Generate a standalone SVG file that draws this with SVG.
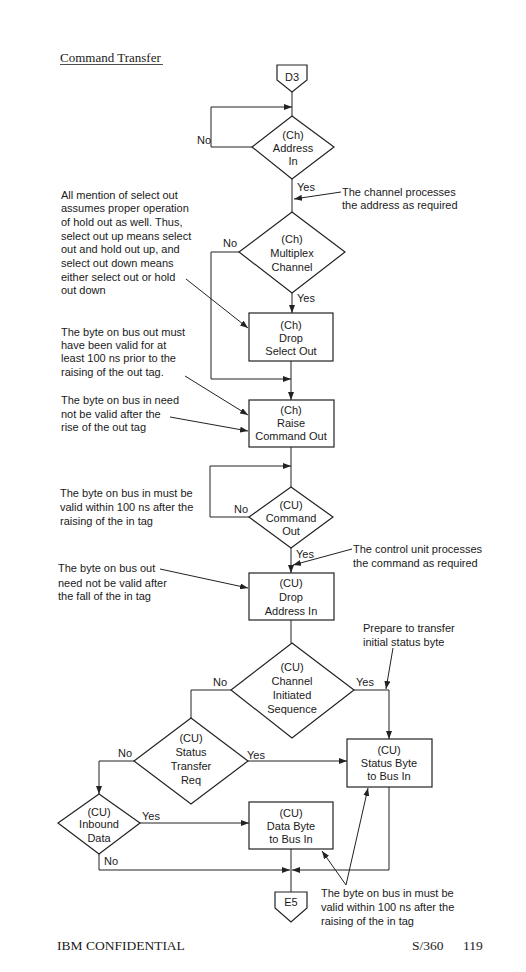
<svg xmlns="http://www.w3.org/2000/svg" width="526" height="972" viewBox="0 0 526 972">
<style>
  .bg{fill:#fff}
  .shape{fill:none;stroke:#222;stroke-width:1.2}
  .line{fill:none;stroke:#222;stroke-width:1}
  text{font-family:"Liberation Sans",Arial,sans-serif;font-size:11px;fill:#1a1a1a}
  .c{text-anchor:middle}
  .serif{font-family:"Liberation Serif","Times New Roman",serif;font-size:13.5px}
</style>
<defs>
  <marker id="ah" markerWidth="8" markerHeight="6" refX="8" refY="3" orient="auto" markerUnits="userSpaceOnUse">
    <path d="M0,0 L8,3 L0,6 z" fill="#222"/>
  </marker>
</defs>
<rect class="bg" x="0" y="0" width="526" height="972"/>

<g id="title">
  <text class="serif" x="60" y="62" style="font-size:13px">Command Transfer</text>
  <line x1="60" y1="64.5" x2="163" y2="64.5" stroke="#222" stroke-width="0.8"/>
</g>

<g id="connectors">
  <path class="line" d="M292,92 V116"/>
  <path class="line" d="M252,147 H211 V107 H292" marker-end="url(#ah)"/>
  <path class="line" d="M292,179 V212"/>
  <path class="line" d="M341,192 L294,199" marker-end="url(#ah)"/>
  <path class="line" d="M292,293 V313" marker-end="url(#ah)"/>
  <path class="line" d="M239,252 H211 V379 H291" marker-end="url(#ah)"/>
  <path class="line" d="M291,361 V400" marker-end="url(#ah)"/>
  <path class="line" d="M186,279 L248,328" marker-end="url(#ah)"/>
  <path class="line" d="M185,376 L248,415" marker-end="url(#ah)"/>
  <path class="line" d="M170,417 L248,431" marker-end="url(#ah)"/>
  <path class="line" d="M291,447 V487"/>
  <path class="line" d="M249,517 H210 V466 H291" marker-end="url(#ah)"/>
  <path class="line" d="M291,548 V573" marker-end="url(#ah)"/>
  <path class="line" d="M352,549 L293,565" marker-end="url(#ah)"/>
  <path class="line" d="M160,569 L248,588" marker-end="url(#ah)"/>
  <path class="line" d="M291,620 V643"/>
  <path class="line" d="M231,690 H191 V718"/>
  <path class="line" d="M354,690 H389 V739" marker-end="url(#ah)"/>
  <path class="line" d="M393,648 L386,689" marker-end="url(#ah)"/>
  <path class="line" d="M248,761 H347" marker-end="url(#ah)"/>
  <path class="line" d="M134,761 H99 V794" marker-end="url(#ah)"/>
  <path class="line" d="M140,823 H249" marker-end="url(#ah)"/>
  <path class="line" d="M99,854 V870 H290" marker-end="url(#ah)"/>
  <path class="line" d="M389,787 V870 H292" marker-end="url(#ah)"/>
  <path class="line" d="M291,849 V892"/>
  <path class="line" d="M346,885 L322,851" marker-end="url(#ah)"/>
  <path class="line" d="M346,885 L368,788" marker-end="url(#ah)"/>
</g>

<g id="D3">
  <path class="shape" d="M277,65 H307 V80 L292,92 L277,80 Z"/>
  <text class="c" x="292" y="81">D3</text>
</g>

<g id="ch-address-in">
  <path class="shape" d="M292,116 L334,147 L292,179 L252,147 Z"/>
  <text class="c" x="293" y="139">(Ch)</text>
  <text class="c" x="293" y="152">Address</text>
  <text class="c" x="293" y="165">In</text>
  <text x="197" y="144">No</text>
  <text x="297" y="191">Yes</text>
</g>

<g id="note-channel-processes">
  <text x="342" y="196">The channel processes</text>
  <text x="342" y="209">the address as required</text>
</g>

<g id="note-select-out">
  <text x="61" y="199">All mention of select out</text>
  <text x="61" y="212">assumes proper operation</text>
  <text x="61" y="226">of hold out as well.  Thus,</text>
  <text x="61" y="240">select out up means select</text>
  <text x="61" y="253">out and hold out up, and</text>
  <text x="61" y="267">select out down means</text>
  <text x="61" y="281">either select out or hold</text>
  <text x="61" y="294">out down</text>
</g>

<g id="ch-multiplex-channel">
  <path class="shape" d="M292,212 L345,252 L292,293 L239,252 Z"/>
  <text class="c" x="292" y="243">(Ch)</text>
  <text class="c" x="292" y="257">Multiplex</text>
  <text class="c" x="292" y="271">Channel</text>
  <text x="223" y="247">No</text>
  <text x="297" y="302">Yes</text>
</g>

<g id="ch-drop-select-out">
  <rect class="shape" x="249" y="313" width="84" height="48"/>
  <text class="c" x="291" y="329">(Ch)</text>
  <text class="c" x="291" y="342">Drop</text>
  <text class="c" x="291" y="355">Select Out</text>
</g>

<g id="note-bus-out-valid">
  <text x="61" y="336">The byte on bus out must</text>
  <text x="61" y="349">have been valid for at</text>
  <text x="61" y="362">least 100 ns prior to the</text>
  <text x="61" y="376">raising of the out tag.</text>
</g>

<g id="note-bus-in-need">
  <text x="61" y="404">The byte on bus in need</text>
  <text x="61" y="418">not be valid after the</text>
  <text x="61" y="431">rise of the out tag</text>
</g>

<g id="ch-raise-command-out">
  <rect class="shape" x="249" y="400" width="85" height="47"/>
  <text class="c" x="291" y="414">(Ch)</text>
  <text class="c" x="291" y="427">Raise</text>
  <text class="c" x="291" y="440">Command Out</text>
</g>

<g id="note-bus-in-must">
  <text x="60" y="497">The byte on bus in must be</text>
  <text x="60" y="511">valid within 100 ns after the</text>
  <text x="60" y="525">raising of the in tag</text>
</g>

<g id="cu-command-out">
  <path class="shape" d="M291,487 L333,517 L291,548 L249,517 Z"/>
  <text class="c" x="291" y="509">(CU)</text>
  <text class="c" x="291" y="522">Command</text>
  <text class="c" x="291" y="535">Out</text>
  <text x="234" y="513">No</text>
  <text x="296" y="558">Yes</text>
</g>

<g id="note-cu-processes">
  <text x="353" y="553">The control unit processes</text>
  <text x="353" y="567">the command as required</text>
</g>

<g id="note-bus-out-need">
  <text x="58" y="572">The byte on bus out</text>
  <text x="58" y="587">need not be valid after</text>
  <text x="58" y="600">the fall of the in tag</text>
</g>

<g id="cu-drop-address-in">
  <rect class="shape" x="249" y="573" width="85" height="47"/>
  <text class="c" x="291" y="587">(CU)</text>
  <text class="c" x="291" y="601">Drop</text>
  <text class="c" x="291" y="615">Address In</text>
</g>

<g id="note-prepare">
  <text x="363" y="632">Prepare to transfer</text>
  <text x="363" y="646">initial status byte</text>
</g>

<g id="cu-channel-initiated">
  <path class="shape" d="M292,643 L354,690 L292,738 L231,690 Z"/>
  <text class="c" x="292" y="671">(CU)</text>
  <text class="c" x="292" y="685">Channel</text>
  <text class="c" x="292" y="699">Initiated</text>
  <text class="c" x="292" y="713">Sequence</text>
  <text x="213" y="686">No</text>
  <text x="356" y="686">Yes</text>
</g>

<g id="cu-status-transfer-req">
  <path class="shape" d="M191,718 L248,761 L191,804 L134,761 Z"/>
  <text class="c" x="191" y="742">(CU)</text>
  <text class="c" x="191" y="756">Status</text>
  <text class="c" x="191" y="770">Transfer</text>
  <text class="c" x="191" y="784">Req</text>
  <text x="118" y="757">No</text>
  <text x="247" y="759">Yes</text>
</g>

<g id="cu-status-byte">
  <rect class="shape" x="347" y="739" width="85" height="48"/>
  <text class="c" x="389" y="754">(CU)</text>
  <text class="c" x="389" y="767">Status Byte</text>
  <text class="c" x="389" y="780">to Bus In</text>
</g>

<g id="cu-inbound-data">
  <path class="shape" d="M99,794 L140,823 L99,854 L58,823 Z"/>
  <text class="c" x="99" y="816">(CU)</text>
  <text class="c" x="99" y="828">Inbound</text>
  <text class="c" x="99" y="842">Data</text>
  <text x="142" y="820">Yes</text>
  <text x="104" y="865">No</text>
</g>

<g id="cu-data-byte">
  <rect class="shape" x="249" y="802" width="84" height="47"/>
  <text class="c" x="291" y="817">(CU)</text>
  <text class="c" x="291" y="830">Data Byte</text>
  <text class="c" x="291" y="843">to Bus In</text>
</g>

<g id="E5">
  <path class="shape" d="M275,892 H307 V908 L291,922 L275,908 Z"/>
  <text class="c" x="291" y="906">E5</text>
</g>

<g id="note-bus-in-bottom">
  <text x="321" y="897">The byte on bus in must be</text>
  <text x="321" y="911">valid within 100 ns after the</text>
  <text x="321" y="925">raising of the in tag</text>
</g>

<g id="footer">
  <text class="serif" x="57" y="950">IBM CONFIDENTIAL</text>
  <text class="serif" x="412" y="950">S/360</text>
  <text class="serif" x="463" y="950">119</text>
</g>
</svg>
